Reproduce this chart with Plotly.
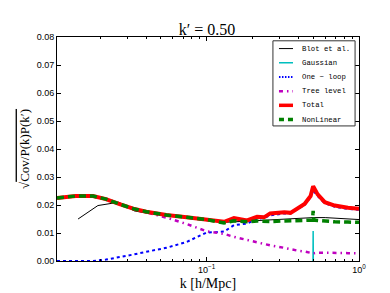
import plotly.graph_objects as go

# k grid shared by the model curves
k = [0.0104, 0.0138, 0.0179, 0.0218, 0.0265, 0.0329, 0.0401, 0.0543, 0.0738, 0.100,
     0.115, 0.130, 0.151, 0.184, 0.214, 0.238, 0.261, 0.323, 0.355, 0.395,
     0.439, 0.481, 0.500, 0.535, 0.596, 0.693, 0.846, 1.0]

total = [0.0225, 0.0232, 0.0232, 0.0221, 0.0204, 0.0187, 0.0176, 0.0164, 0.0156, 0.0148,
         0.0143, 0.0140, 0.0153, 0.0145, 0.0158, 0.0156, 0.0170, 0.0174, 0.0172, 0.0187,
         0.0204, 0.0232, 0.0267, 0.0238, 0.0210, 0.0198, 0.0190, 0.0187]

tree = [0.0225, 0.0232, 0.0232, 0.0221, 0.0204, 0.0187, 0.0174, 0.0155, 0.0132, 0.0106,
        0.0100, 0.0097, 0.0086, 0.0075, 0.0066, 0.0061, 0.0056, 0.0047, 0.0042, 0.0037,
        0.0034, 0.0030, 0.0027, 0.0030, 0.0030, 0.0029, 0.0028, 0.0027]

one_loop = [0.0, 0.0, 0.0, 0.0005, 0.0013, 0.0023, 0.0033, 0.0047, 0.0068, 0.0102,
            0.0103, 0.0105, 0.0128, 0.0134, 0.0150, 0.0154, 0.0163, 0.0170, 0.0170, 0.0185,
            0.0200, 0.0228, 0.0252, 0.0232, 0.0206, 0.0194, 0.0186, 0.0183]

k_nl = [0.0104, 0.0138, 0.0179, 0.0218, 0.0265, 0.0329, 0.0401, 0.0543, 0.0738, 0.100,
        0.115, 0.130, 0.151, 0.184, 0.214, 0.238, 0.261, 0.323, 0.355, 0.395,
        0.439, 0.495, 0.500, 0.505, 0.535, 0.596, 0.693, 0.846, 1.0]
nonlinear = [0.0225, 0.0232, 0.0232, 0.0221, 0.0204, 0.0187, 0.0176, 0.0164, 0.0156, 0.0148,
             0.0141, 0.0136, 0.0144, 0.0140, 0.0143, 0.0141, 0.0141, 0.0143, 0.0144, 0.0145,
             0.0145, 0.0146, 0.0179, 0.0146, 0.0145, 0.0142, 0.0140, 0.0139, 0.0138]

k_blot = [0.0143, 0.0193, 0.0265, 0.0304, 0.0334, 0.0383, 0.0543, 0.0738, 0.100, 0.130,
          0.151, 0.184, 0.238, 0.300, 0.400, 0.500, 0.600, 0.800, 1.0]
blot = [0.0150, 0.0198, 0.0210, 0.0192, 0.0179, 0.0173, 0.0162, 0.0153, 0.0144, 0.0138,
        0.0140, 0.0143, 0.0147, 0.0150, 0.0153, 0.0155, 0.0155, 0.0152, 0.0148]

k_gauss = [0.499, 0.500, 0.501]
gauss = [0.0, 0.0107, 0.0]

title_text = "k′ = 0.50"
xlabel = "k [h/Mpc]"
ylabel = "√<span style='text-decoration:overline'>Cov/P(k)P(k′)</span>"
ytick_vals = [0.00, 0.01, 0.02, 0.03, 0.04, 0.05, 0.06, 0.07, 0.08]
xtick_vals = [0.1, 1.0]
xtick_text = ["10<sup>−1</sup>", "10<sup>0</sup>"]
xminor_vals = [0.02, 0.03, 0.04, 0.05, 0.06, 0.07, 0.08, 0.09,
               0.2, 0.3, 0.4, 0.5, 0.6, 0.7, 0.8, 0.9]

series = [
    ("Blot et al.", k_blot, blot, dict(color="black", width=1)),
    ("Gaussian", k_gauss, gauss, dict(color="#00bfbf", width=1.5)),
    ("One − loop", k, one_loop, dict(color="#0000ff", width=2, dash="dot")),
    ("Tree level", k, tree, dict(color="#bf00bf", width=2.5, dash="4px,4px,1.5px,4px")),
    ("Total", k, total, dict(color="#ff0000", width=4)),
    ("NonLinear", k_nl, nonlinear, dict(color="#008000", width=3.5, dash="7px,4px")),
]

fig = go.Figure()
for name, xs, ys, ln in series:
    fig.add_trace(go.Scatter(x=xs, y=ys, mode="lines", name=name, line=ln, showlegend=False))

# compact legend box (drawn in paper coordinates)
lg_x0, lg_x1, lg_top, lg_bot = 0.715, 0.987, 0.983, 0.603
row_h = (lg_top - lg_bot) / len(series)
shapes = [dict(type="rect", xref="paper", yref="paper", x0=lg_x0, x1=lg_x1, y0=lg_bot, y1=lg_top,
               line=dict(color="#333", width=1), fillcolor="white", layer="above")]
annotations = []
for i, (name, xs, ys, ln) in enumerate(series):
    yy = lg_top - (i + 0.5) * row_h - 0.003
    sl = dict(ln)
    sl["width"] = min(ln.get("width", 1), 3.5)
    if ln.get("dash") == "7px,4px":
        sl["dash"] = "5px,4px"
    if ln.get("dash") == "dot":
        sl["dash"] = "1.5px,1.5px"
    shapes.append(dict(type="line", xref="paper", yref="paper", x0=0.735, x1=0.7815, y0=yy, y1=yy,
                       line=sl, layer="above"))
    annotations.append(dict(text=name, xref="paper", yref="paper", x=0.806, y=yy,
                            xanchor="left", yanchor="middle", showarrow=False,
                            font=dict(family="Liberation Mono", size=7.3, color="black")))

fig.update_layout(
    width=390, height=293,
    margin=dict(l=49, r=39, t=29, b=30),
    paper_bgcolor="white", plot_bgcolor="white",
    title=dict(text=title_text, x=0.51, xanchor="center", y=1 - 21 / 293, yanchor="middle",
               yref="container", font=dict(family="Liberation Serif", size=16, color="black")),
    showlegend=False,
    shapes=shapes,
    annotations=annotations,
)
fig.update_xaxes(type="log", range=[-1.983, 0], showgrid=False, zeroline=False,
                 showline=True, linecolor="black", linewidth=1, mirror="ticks",
                 ticks="inside", ticklen=4, tickcolor="black",
                 tickvals=xtick_vals, ticktext=xtick_text,
                 tickfont=dict(family="Liberation Sans", size=9, color="black"),
                 minor=dict(tickvals=xminor_vals, ticks="inside", ticklen=2, tickcolor="black"),
                 title=dict(text=xlabel, standoff=4,
                            font=dict(family="Liberation Serif", size=14, color="black")))
fig.update_yaxes(range=[0, 0.08], showgrid=False, zeroline=False,
                 showline=True, linecolor="black", linewidth=1, mirror="ticks",
                 ticks="inside", ticklen=4, tickcolor="black",
                 tickvals=ytick_vals, tickformat=".2f",
                 tickfont=dict(family="Liberation Sans", size=9, color="black"),
                 title=dict(text=ylabel, standoff=4,
                            font=dict(family="Liberation Serif", size=13, color="black")))

fig.write_html("out.html")
